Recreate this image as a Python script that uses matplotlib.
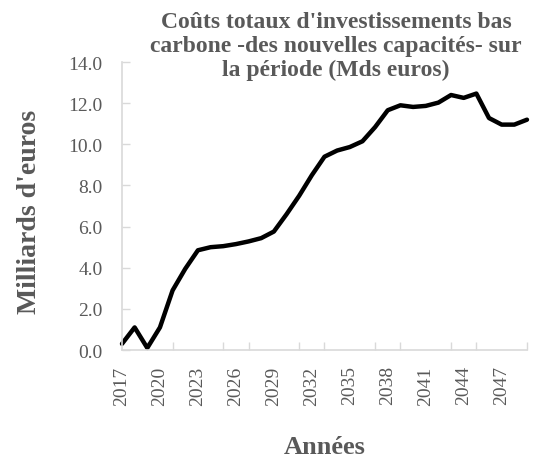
import matplotlib
matplotlib.use('Agg')
import matplotlib.pyplot as plt
import numpy as np

# data
years = list(range(2017, 2050))
couts = [0.3, 1.1, 0.1, 1.1, 2.9, 3.95, 4.85, 5.0, 5.05, 5.15, 5.28, 5.44, 5.76,
         6.6, 7.5, 8.5, 9.4, 9.7, 9.87, 10.15, 10.84, 11.66, 11.9, 11.82, 11.87,
         12.03, 12.4, 12.26, 12.47, 11.28, 10.96, 10.96, 11.2]
label_years = list(range(2017, 2048, 3))
y_ticks = [0, 2, 4, 6, 8, 10, 12, 14]

grey = '#595959'
axis_grey = '#d9d9d9'
plt.rcParams['font.family'] = ['Liberation Serif', 'DejaVu Serif']

fig = plt.figure(figsize=(5.35, 4.64), dpi=100)
ax = fig.add_axes([0.228, 0.2435, 0.757, 0.6205])

ax.plot(years, couts, color='black', lw=3.2, solid_joinstyle='round', solid_capstyle='round', clip_on=False)

ax.set_xlim(2017, 2049)
ax.set_ylim(0, 14)

ax.set_yticks(y_ticks)
ax.set_yticklabels([f'{v:.1f}' for v in y_ticks], color=grey, fontsize=14)
ax.set_xticks(label_years)
ax.set_xticklabels([str(y) for y in label_years], rotation=90, color=grey, fontsize=14)
ax.set_xticks(range(2017, 2050, 2), minor=True)
ax.tick_params(axis='x', which='major', length=0, pad=11)
ax.tick_params(axis='x', which='minor', length=6, direction='in', color=axis_grey, width=1)
ax.tick_params(axis='y', length=6, direction='in', color=axis_grey, width=1, pad=14)

for s in ['top', 'right']:
    ax.spines[s].set_visible(False)
for s in ['left', 'bottom']:
    ax.spines[s].set_color(axis_grey)
    ax.spines[s].set_linewidth(1.2)

fig.text(0.628, 0.9, "Coûts totaux d'investissements bas\ncarbone -des nouvelles capacités- sur\nla période (Mds euros)",
         ha='center', va='center', fontsize=17, fontweight='bold', color=grey, linespacing=1.2)
fig.text(0.056, 0.543, "Milliards d'euros", rotation=90, ha='center', va='center',
         fontsize=20, fontweight='bold', color=grey)
fig.text(0.607, 0.035, "Années", ha='center', va='center', fontsize=19, fontweight='bold', color=grey)

fig.savefig('out.png', dpi=100)
